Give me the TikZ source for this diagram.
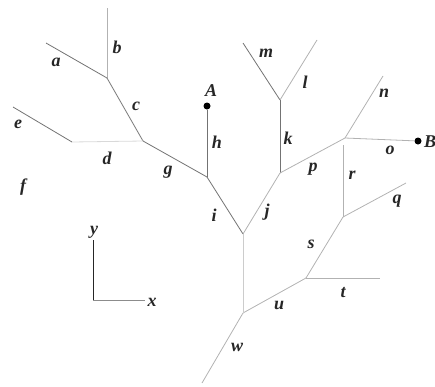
\documentclass[tikz,border=0pt]{standalone}
\usepackage{fontspec}
\setmainfont{Liberation Serif}
\begin{document}
\begin{tikzpicture}[x=1pt,y=-1pt,
  dk/.style={draw=black!55,line width=0.8pt},
  lt/.style={draw=black!30,line width=0.8pt},
  lbl/.style={font=\fontsize{18}{20}\selectfont\bfseries\itshape,inner sep=0pt,text=black!85},
  dot/.style={circle,fill=black,inner sep=0pt,minimum size=7pt}]
\useasboundingbox (0,0) rectangle (435,386);
% junctions
\coordinate (bt) at (107,8);
\coordinate (J1) at (107,78);
\coordinate (at) at (46,43);
\coordinate (J2) at (143,141);
\coordinate (et) at (13,107);
\coordinate (ee) at (72,142);
\coordinate (J3) at (207,177);
\node[dot] (A) at (207,106) {};
\coordinate (J4) at (243,234);
\coordinate (J5) at (280,173);
\coordinate (J6) at (280,100);
\coordinate (mt) at (243,43);
\coordinate (lt) at (317,40);
\coordinate (J7) at (345,138);
\coordinate (nt) at (383,76);
\node[dot] (B) at (418,141) {};
\coordinate (rt) at (343,145);
\coordinate (J8) at (343,217);
\coordinate (qt) at (406,183);
\coordinate (J9) at (306,278);
\coordinate (tt) at (380,278);
\coordinate (J10) at (243,313);
\coordinate (wt) at (202,383);
% edges
\draw[lt] (bt) -- (J1);
\draw[dk] (at) -- (J1);
\draw[dk] (J1) -- (J2);
\draw[dk] (et) -- (ee);
\draw[lt,draw=black!15] (ee) -- (J2);
\draw[dk] (J2) -- (J3);
\draw[dk] (A) -- (J3);
\draw[dk] (J3) -- (J4);
\draw[lt] (J4) -- (J5);
\draw[dk] (J5) -- (J6);
\draw[dk] (mt) -- (J6);
\draw[lt] (J6) -- (lt);
\draw[lt] (J5) -- (J7);
\draw[lt] (J7) -- (nt);
\draw[lt] (J7) -- (B);
\draw[lt] (rt) -- (J8);
\draw[lt] (J8) -- (qt);
\draw[lt] (J8) -- (J9);
\draw[lt] (J9) -- (tt);
\draw[lt] (J9) -- (J10);
\draw[lt,draw=black!20] (J4) -- (J10);
\draw[lt] (J10) -- (wt);
% axes
\coordinate (O) at (93,300);
\coordinate (Y) at (93,240);
\coordinate (X) at (145,300);
\draw[draw=black!85,line width=1pt] (O) -- (Y);
\draw[draw=black!45,line width=0.9pt] (O) -- (X);
\node[lbl] (ly) at (94,232) {y};
\node[lbl] (lx) at (152,302) {x};
% labels
\node[lbl] (la) at (56,62) {a};
\node[lbl] (lb) at (117,47) {b};
\node[lbl] (lc) at (136,106) {c};
\node[lbl] (ld) at (107,158) {d};
\node[lbl] (le) at (18,124) {e};
\node[lbl] (lf) at (23,187) {f};
\node[lbl] (lg) at (168,172) {g};
\node[lbl] (lA) at (211,91) {A};
\node[lbl] (lh) at (217,142) {h};
\node[lbl] (li) at (214,215) {i};
\node[lbl] (lj) at (267,212) {j};
\node[lbl] (lk) at (288,138) {k};
\node[lbl] (lm) at (266,53) {m};
\node[lbl] (ll) at (305,82) {l};
\node[lbl] (ln) at (384,93) {n};
\node[lbl] (lo) at (390,150) {o};
\node[lbl] (lB) at (430,142) {B};
\node[lbl] (lp) at (313,169) {p};
\node[lbl] (lr) at (352,175) {r};
\node[lbl] (lq) at (397,201) {q};
\node[lbl] (ls) at (311,244) {s};
\node[lbl] (lt2) at (343,293) {t};
\node[lbl] (lu) at (279,305) {u};
\node[lbl] (lw) at (237,347) {w};
\end{tikzpicture}
\end{document}
